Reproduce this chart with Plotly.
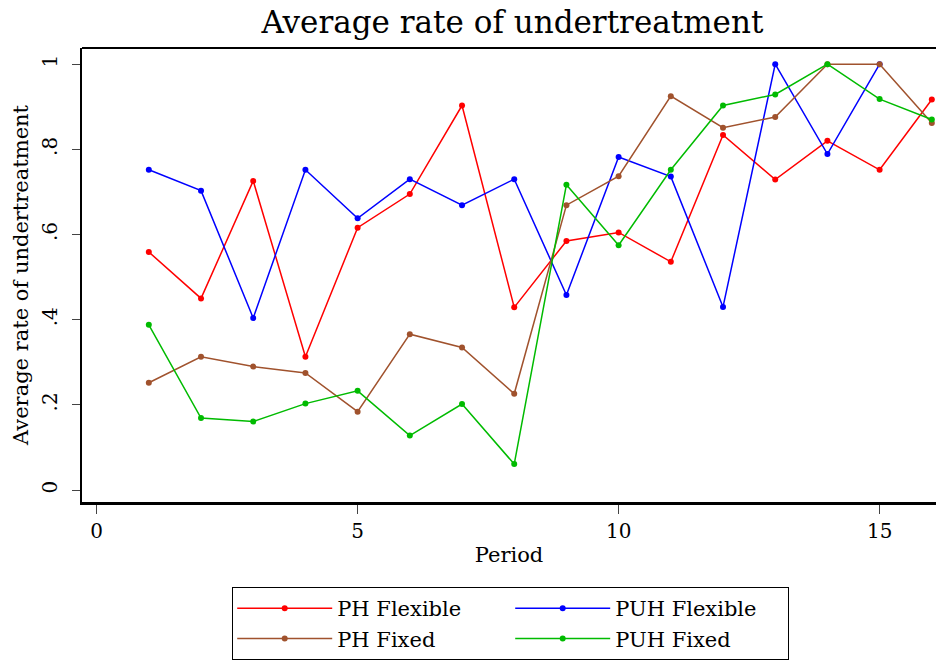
import plotly.graph_objects as go

periods = list(range(1, 17))
ph_flexible = [0.559, 0.450, 0.726, 0.313, 0.616, 0.695, 0.903, 0.429,
               0.585, 0.605, 0.536, 0.834, 0.729, 0.820, 0.752, 0.917]
puh_flexible = [0.752, 0.703, 0.404, 0.752, 0.638, 0.730, 0.669, 0.730,
                0.458, 0.782, 0.736, 0.430, 1.000, 0.789, 1.000]
ph_fixed = [0.252, 0.313, 0.290, 0.275, 0.184, 0.366, 0.335, 0.226,
            0.669, 0.737, 0.925, 0.851, 0.876, 1.000, 1.000, 0.862]
puh_fixed = [0.388, 0.169, 0.161, 0.203, 0.233, 0.128, 0.202, 0.061,
             0.717, 0.575, 0.752, 0.903, 0.929, 1.000, 0.918, 0.870]

x_ticks = [0, 5, 10, 15]
y_ticks = [0, 0.2, 0.4, 0.6, 0.8, 1]
y_tick_text = ["0", ".2", ".4", ".6", ".8", "1"]

series = [
    ("PH Flexible", ph_flexible, "#ff0000", "PH"),
    ("PUH Flexible", puh_flexible, "#0000ff", "PUH"),
    ("PH Fixed", ph_fixed, "#a0522d", "PH"),
    ("PUH Fixed", puh_fixed, "#00bb00", "PUH"),
]

FONT = "DejaVu Serif"

fig = go.Figure()
for name, vals, col, grp in series:
    fig.add_trace(go.Scatter(
        x=periods[:len(vals)], y=vals, name=name, mode="lines+markers",
        legendgroup=grp,
        line=dict(color=col, width=1.5),
        marker=dict(color=col, size=6, symbol="circle"),
    ))

fig.update_layout(
    width=936, height=664,
    plot_bgcolor="white", paper_bgcolor="white",
    margin=dict(l=82, r=0, t=48, b=162, autoexpand=False),
    font=dict(family=FONT, color="black", size=20),
    title=dict(text="Average rate of undertreatment", x=0.504, xref="paper",
               xanchor="center", y=1 - 22 / 664, yref="container",
               yanchor="middle",
               font=dict(family=FONT, size=31, color="black")),
    showlegend=True,
    legend=dict(orientation="h", x=0.502, xref="paper", xanchor="center",
                y=1 - 587 / 664, yref="container", yanchor="top",
                bordercolor="black", borderwidth=1,
                traceorder="grouped", tracegroupgap=0,
                entrywidth=168, itemwidth=95,
                font=dict(family=FONT, size=21)),
)
fig.update_xaxes(
    range=[-0.28, 16.08], tickvals=x_ticks, ticks="outside", ticklen=9,
    showgrid=False, zeroline=False, showline=True, linecolor="black",
    linewidth=2.5, automargin=False,
    title=dict(text="Period", font=dict(size=21), standoff=6),
    tickfont=dict(size=20),
)
fig.update_yaxes(
    range=[-0.028, 1.038], tickvals=y_ticks, ticktext=y_tick_text,
    ticks="outside", ticklen=8, tickangle=-90, ticklabelstandoff=7,
    showgrid=False, zeroline=False, showline=True, linecolor="black",
    linewidth=2, automargin=False,
    title=dict(text="Average rate of undertreatment",
               font=dict(size=21), standoff=4),
    tickfont=dict(size=20),
)
fig.add_shape(type="line", xref="paper", yref="paper", x0=0, x1=1, y0=1, y1=1,
              line=dict(color="black", width=2))
fig.write_html("out.html", config={"displayModeBar": False},
               post_script="document.body.style.margin='0';")
